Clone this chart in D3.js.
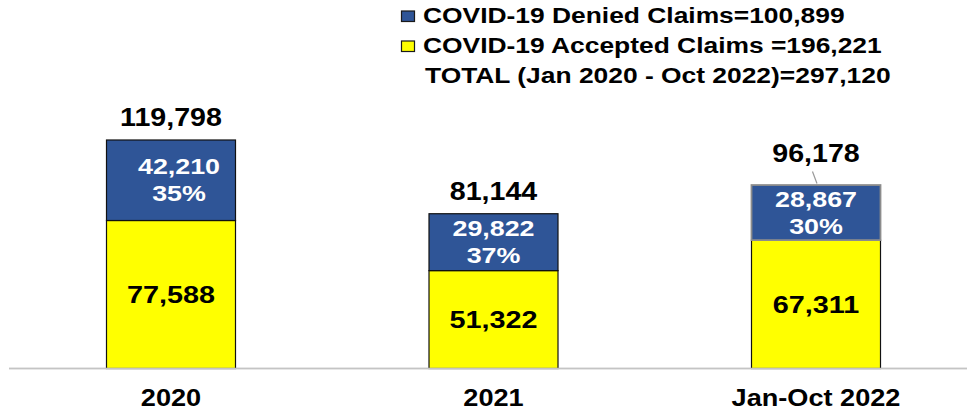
<!DOCTYPE html>
<html>
<head>
<meta charset="utf-8">
<script src="https://cdn.jsdelivr.net/npm/d3@7"></script>
<style>
  html, body { margin: 0; padding: 0; background: #ffffff; }
  svg { display: block; font-family: "Liberation Sans", Arial, Helvetica, sans-serif; font-weight: bold; }
</style>
</head>
<body>
<div id="chart"></div>
<script>
// ---- data ----
const categories = ["2020", "2021", "Jan-Oct 2022"];
const acceptedClaims = [77588, 51322, 67311];
const deniedClaims = [42210, 29822, 28867];
const totalClaims = [119798, 81144, 96178];
const deniedShare = ["35%", "37%", "30%"];
const legendLabels = [
  "COVID-19 Denied Claims=100,899",
  "COVID-19 Accepted Claims =196,221",
  "TOTAL (Jan 2020 - Oct 2022)=297,120"
];
const fmt = d3.format(",");

// ---- layout ----
const W = 967, H = 412;
const baseY = 368.5;
const colors = { denied: "#2F5597", accepted: "#FFFF00" };

const svg = d3.select("#chart").append("svg")
  .attr("width", W).attr("height", H);

const x = d3.scaleBand().domain(categories)
  .range([9.75, 977.25]).paddingInner(0.6).paddingOuter(0.3);
const y = d3.scaleLinear().domain([0, 140000]).range([baseY, baseY - 140000 * 0.0019074]);

// helper for horizontally stretched text
function sText(parent, tx, ty, str, size, sx, fill, anchor) {
  const g = parent.append("g").attr("transform", `translate(${tx},${ty})`);
  g.append("text")
    .attr("transform", `scale(${sx},1)`)
    .attr("text-anchor", anchor || "middle")
    .attr("font-size", size)
    .attr("fill", fill)
    .text(str);
  return g;
}

const rows = categories.map((c, i) => ({
  cat: c, acc: acceptedClaims[i], den: deniedClaims[i], tot: totalClaims[i], pct: deniedShare[i], i
}));

// axis baseline
svg.append("line")
  .attr("x1", 9).attr("x2", W)
  .attr("y1", baseY).attr("y2", baseY)
  .attr("stroke", "#cfcfcf").attr("stroke-width", 1.5);

// accepted (bottom) segments
svg.selectAll("rect.acc").data(rows).join("rect")
  .attr("class", "acc")
  .attr("x", d => x(d.cat))
  .attr("width", x.bandwidth())
  .attr("y", d => y(d.acc))
  .attr("height", d => y(0) - y(d.acc))
  .attr("fill", colors.accepted)
  .attr("stroke", "#111").attr("stroke-width", 1.2);

// denied (top) segments
svg.selectAll("rect.den").data(rows).join("rect")
  .attr("class", "den")
  .attr("x", d => x(d.cat))
  .attr("width", x.bandwidth())
  .attr("y", d => y(d.acc + d.den))
  .attr("height", d => y(d.acc) - y(d.acc + d.den))
  .attr("fill", colors.denied)
  .attr("stroke", d => d.i === 2 ? "#8c8c8c" : "#111")
  .attr("stroke-width", d => d.i === 2 ? 1.8 : 1.2);

// redraw bottom baseline over bars
svg.append("line")
  .attr("x1", 9).attr("x2", W)
  .attr("y1", baseY).attr("y2", baseY)
  .attr("stroke", "#c4c4c4").attr("stroke-width", 1.5);

rows.forEach(d => {
  const cx = x(d.cat) + x.bandwidth() / 2;
  // denied labels (two lines, centered in segment)
  const yTop = y(d.acc + d.den), yMid = y(d.acc);
  const segC = (yTop + yMid) / 2;
  const dx = d.i === 0 ? 8 : 0;
  sText(svg, cx + dx, segC - 6, fmt(d.den), 22, 1.22, "#ffffff");
  sText(svg, cx + dx, segC + 21, d.pct, 22, 1.22, "#ffffff");
  // accepted label
  const accC = (yMid + y(0)) / 2;
  sText(svg, cx, accC + 8.5, fmt(d.acc), 24, 1.2, "#000000");
  // total label
  const raise = d.i === 2 ? 9 : 0;
  sText(svg, cx, yTop - 14 - raise, fmt(d.tot), 26, 1.1, "#000000");
  if (d.i === 2) {
    svg.append("line")
      .attr("x1", cx - 3.5).attr("y1", yTop - 13.5)
      .attr("x2", cx + 1).attr("y2", yTop - 1.5)
      .attr("stroke", "#999").attr("stroke-width", 1.2);
  }
  // category label
  sText(svg, cx, 406, d.cat, 23, 1.18, "#000000");
});

// legend
const legend = svg.append("g");
const swatches = [colors.denied, colors.accepted];
legendLabels.forEach((lab, i) => {
  const by = 22.5 + i * 30;
  if (i < 2) {
    legend.append("rect")
      .attr("x", 401.5).attr("y", by - 11.5)
      .attr("width", 13).attr("height", 10.5)
      .attr("fill", swatches[i])
      .attr("stroke", "#1a1a1a").attr("stroke-width", 1.2);
  }
  sText(legend, i === 2 ? 425 : 423, by, lab, 22, 1.2, "#000000", "start");
});
</script>
</body>
</html>
